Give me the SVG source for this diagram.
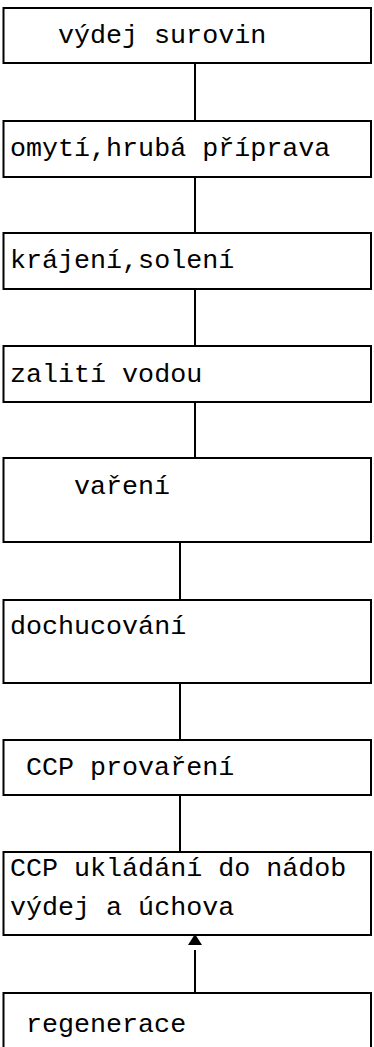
<svg xmlns="http://www.w3.org/2000/svg" width="374" height="1047" viewBox="0 0 374 1047">
<style>
.box{fill:#fff;stroke:#000;stroke-width:2}
.t{font-family:"Liberation Mono","Courier New",monospace;font-size:26.7px;fill:#000}
.c{stroke:#000;stroke-width:2;fill:none}
</style>
<defs>
<marker id="arr" viewBox="0 0 14 12" refX="7" refY="0" markerWidth="14" markerHeight="12" markerUnits="userSpaceOnUse" orient="auto-start-reverse">
<path d="M0,12 L7,0 L14,12 Z" fill="#000"/>
</marker>
</defs>
<g id="connectors">
<line class="c" x1="195" y1="63" x2="195" y2="121"/>
<line class="c" x1="195" y1="177" x2="195" y2="233"/>
<line class="c" x1="195" y1="289" x2="195" y2="346"/>
<line class="c" x1="195" y1="402" x2="195" y2="458"/>
<line class="c" x1="180" y1="542" x2="180" y2="600"/>
<line class="c" x1="180" y1="683" x2="180" y2="740"/>
<line class="c" x1="180" y1="795" x2="180" y2="852"/>
<line class="c" x1="195" y1="993" x2="195" y2="950"/>
<path d="M188,945 L195,934 L202,945 Z" fill="#000"/>
</g>
<g id="n1"><rect class="box" x="3.5" y="8" width="367.5" height="55"/><text class="t" x="58" y="43">výdej surovin</text></g>
<g id="n2"><rect class="box" x="3.5" y="121" width="367.5" height="56"/><text class="t" x="10" y="156">omytí,hrubá příprava</text></g>
<g id="n3"><rect class="box" x="3.5" y="233" width="367.5" height="56"/><text class="t" x="10" y="268">krájení,solení</text></g>
<g id="n4"><rect class="box" x="3.5" y="346" width="367.5" height="56"/><text class="t" x="10" y="382">zalití vodou</text></g>
<g id="n5"><rect class="box" x="3.5" y="458" width="367.5" height="84"/><text class="t" x="74" y="494">vaření</text></g>
<g id="n6"><rect class="box" x="3.5" y="600" width="367.5" height="83"/><text class="t" x="10" y="634">dochucování</text></g>
<g id="n7"><rect class="box" x="3.5" y="740" width="367.5" height="55"/><text class="t" x="26" y="775">CCP provaření</text></g>
<g id="n8"><rect class="box" x="3.5" y="852" width="367.5" height="83"/><text class="t" x="10" y="876">CCP ukládání do nádob</text><text class="t" x="10" y="915">výdej a úchova</text></g>
<g id="n9"><rect class="box" x="3.5" y="993" width="367.5" height="80"/><text class="t" x="26" y="1032">regenerace</text></g>
</svg>
